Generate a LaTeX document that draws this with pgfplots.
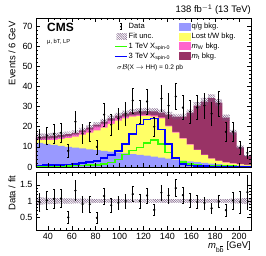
\documentclass[border=0pt]{standalone}
\usepackage{fontspec}
\setmainfont{Liberation Sans}
\usepackage{pgfplots}
\pgfplotsset{compat=1.18}
\usepackage{pgfplotstable}
\usetikzlibrary{patterns.meta}
\definecolor{qg}{RGB}{153,153,255}
\definecolor{tw}{RGB}{255,255,102}
\definecolor{mw}{RGB}{255,102,204}
\definecolor{mt}{RGB}{153,51,102}
\definecolor{sigA}{RGB}{51,255,0}
\definecolor{sigB}{RGB}{0,0,255}
\definecolor{unc}{RGB}{120,90,130}

\pgfplotstableread{
xl B Y P T r g b
30 12.0 13.4 14.2 15.0 0.11 0.5 0.8
36 11.5 13.3 14.2 15.2 0.10 0.5 0.9
42 11.0 13.4 14.4 15.5 0.09 0.5 1.0
48 10.5 13.8 14.8 15.8 0.085 0.6 1.1
54 10.0 14.4 15.4 16.3 0.08 0.6 1.3
60 9.6 15.1 16.2 17.0 0.075 0.7 1.5
66 9.2 16.1 17.4 18.2 0.07 0.8 1.9
72 8.8 17.1 18.7 19.5 0.065 0.9 2.4
78 8.4 18.2 20.2 21.0 0.06 1.0 3.1
84 8.0 19.6 21.6 22.5 0.06 1.5 4.4
90 7.6 21.4 23.1 24.2 0.055 2.2 6.0
96 7.2 23.0 24.3 25.5 0.055 3.8 8.0
102 6.8 24.2 25.1 26.5 0.055 6.3 11.5
108 6.4 25.0 25.7 27.2 0.055 8.3 16.5
114 6.0 25.3 26.0 27.6 0.055 9.8 21.0
120 5.6 25.4 26.0 27.8 0.055 12.0 23.5
126 5.2 25.0 25.6 27.6 0.055 13.5 24.0
132 4.7 24.1 24.6 27.0 0.055 11.5 18.5
138 4.2 20.2 20.6 26.0 0.055 7.2 11.5
144 3.7 17.1 17.4 25.0 0.055 4.2 4.5
150 3.2 14.1 14.3 25.0 0.055 2.6 1.5
156 2.8 11.1 11.3 27.0 0.055 1.6 0.8
162 2.4 8.4 8.6 30.5 0.055 1.1 0.5
168 2.0 5.9 6.1 32.5 0.055 0.8 0.4
174 1.7 4.1 4.3 34.2 0.055 0.6 0.3
180 1.4 3.0 3.2 32.0 0.055 0.5 0.3
186 1.1 2.2 2.4 24.5 0.06 0.4 0.2
192 0.9 1.7 1.9 17.2 0.07 0.4 0.2
198 0.7 1.3 1.4 9.8 0.08 0.3 0.2
204 0.5 1.0 1.1 5.5 0.09 0.3 0.2
210 0.5 1.0 1.1 5.5 0.09 0.3 0.2
}\stack

\pgfplotstableread{
xc N e T
33 14.5 4.2 15.0
39 15.5 4.3 15.2
45 16.5 4.5 15.5
51 17.0 4.5 15.8
57 8.0 3.1 16.3
63 22.5 5.2 17.0
69 16.5 4.5 18.2
75 17.5 4.6 19.5
81 10.0 3.5 21.0
87 26.0 5.6 22.5
93 21.0 5.0 24.2
99 24.0 5.4 25.5
105 26.5 5.7 26.5
111 33.0 6.3 27.2
117 27.5 5.8 27.6
123 32.5 6.3 27.8
129 20.0 4.9 27.6
135 34.0 6.4 27.0
141 30.5 6.1 26.0
147 35.0 6.5 25.0
153 29.5 6.0 25.0
159 27.5 5.8 27.0
165 29.5 6.0 30.5
171 30.5 6.1 32.5
177 26.5 5.7 34.2
183 31.5 6.2 32.0
189 17.5 4.6 24.5
195 17.5 4.6 17.2
201 9.5 3.4 9.8
207 7.0 2.9 5.5
}\data

\pgfplotsset{
  cmsaxis/.style={
    scale only axis, width=215bp, xmin=30, xmax=210,
    axis on top, tick align=inside,
    axis line style={line width=0.6pt},
    every tick/.style={black, line width=0.5pt},
    major tick length=4bp, minor tick length=2bp,
    xtick={40,60,...,200}, minor x tick num=3,
    /pgf/number format/assume math mode=true,
    ticklabel style={font=\fontsize{9}{10}\selectfont},
    label style={font=\fontsize{9.5}{11}\selectfont},
  },
  dataerr/.style={only marks, mark=*, mark size=0.9pt, black,
    error bars/.cd, y dir=both, y explicit,
    error bar style={line width=0.6pt, black},
    error mark options={rotate=90, mark size=0.9pt, line width=0.5pt}},
  hatchband/.style={pattern={Lines[angle=-45,distance=1.6pt,line width=0.5pt]}, pattern color=unc, draw=none},
}

\begin{document}
\begin{tikzpicture}
\useasboundingbox (0,0) rectangle (266bp,256bp);
% upper panel
\begin{axis}[cmsaxis, at={(36bp,89bp)}, anchor=south west, height=149bp,
  ymin=0, ymax=74, ytick={0,10,...,70}, minor y tick num=4,
  xticklabels={},
  ylabel={Events / 6 GeV},
  ylabel style={at={(axis description cs:-0.112,1)}, anchor=east},
  legend columns=2,
  legend cell align=left,
  legend style={draw=none, fill=none, at={(axis description cs:0.363,0.975)}, anchor=north west,
    font=\fontsize{7.6}{9}\selectfont, inner sep=0pt,
    nodes={inner sep=1bp, text height=5.8bp, text depth=1.6bp},
    row sep=0.5bp,
    /tikz/every even column/.append style={column sep=7.4bp}},
]
\addlegendimage{legend image code/.code={\draw[draw=black,line width=0.6pt] (6bp,-3bp) -- (6bp,3bp); \draw[draw=black,line width=0.5pt] (5bp,3bp) -- (7bp,3bp) (5bp,-3bp) -- (7bp,-3bp); \fill[fill=black,draw=none] (6bp,0) circle (0.9bp); \path[draw=none,fill=none] (0,-4bp) rectangle (12bp,4bp);}}
\addlegendentry{Data}
\addlegendimage{legend image code/.code={\fill[fill=qg,draw=none] (0,-4bp) rectangle (12bp,4bp);}}
\addlegendentry{q/g bkg.}
\addlegendimage{legend image code/.code={\path[draw=none, pattern={Lines[angle=-45,distance=1.6pt,line width=0.5pt]}, pattern color=unc] (1.5bp,-3bp) rectangle (12bp,3bp); \path[draw=none,fill=none] (0,-4bp) rectangle (12bp,4bp);}}
\addlegendentry{Fit unc.}
\addlegendimage{legend image code/.code={\fill[fill=tw,draw=none] (0,-4bp) rectangle (12bp,4bp);}}
\addlegendentry{Lost t/W bkg.}
\addlegendimage{legend image code/.code={\draw[draw=sigA,line width=1.5pt] (0,0) -- (12bp,0); \path[draw=none,fill=none] (0,-4bp) rectangle (12bp,4bp);}}
\addlegendentry{1 TeV X\textsubscript{spin-0}}
\addlegendimage{legend image code/.code={\fill[fill=mw,draw=none] (0,-4bp) rectangle (12bp,4bp);}}
\addlegendentry{\textit{m}\textsubscript{W} bkg.}
\addlegendimage{legend image code/.code={\draw[draw=sigB,line width=1.5pt] (0,0) -- (12bp,0); \path[draw=none,fill=none] (0,-4bp) rectangle (12bp,4bp);}}
\addlegendentry{3 TeV X\textsubscript{spin-0}}
\addlegendimage{legend image code/.code={\fill[fill=mt,draw=none] (0,-4bp) rectangle (12bp,4bp);}}
\addlegendentry{\textit{m}\textsubscript{t} bkg.}

\addplot[const plot mark left, fill=mt, draw=none, forget plot] table[x=xl, y=T] {\stack} \closedcycle;
\addplot[const plot mark left, fill=mw, draw=none, forget plot] table[x=xl, y=P] {\stack} \closedcycle;
\addplot[const plot mark left, fill=tw, draw=none, forget plot] table[x=xl, y=Y] {\stack} \closedcycle;
\addplot[const plot mark left, fill=qg, draw=none, forget plot] table[x=xl, y=B] {\stack} \closedcycle;
\addplot[const plot mark left, draw=none, stack plots=y, forget plot] table[x=xl, y expr=\thisrow{T}*(1-\thisrow{r})] {\stack};
\addplot[const plot mark left, hatchband, stack plots=y, forget plot] table[x=xl, y expr=2*\thisrow{T}*\thisrow{r}] {\stack} \closedcycle;
\addplot[const plot mark left, sigA, line width=1.5pt, forget plot] table[x=xl, y=g] {\stack};
\addplot[const plot mark left, sigB, line width=1.5pt, forget plot] table[x=xl, y=b] {\stack};
\addplot[forget plot, dataerr] table[x=xc, y=N, y error=e] {\data};
\end{axis}

% lower panel
\begin{axis}[cmsaxis, at={(36bp,26bp)}, anchor=south west, height=58bp,
  ymin=0.1, ymax=1.9, ytick={0.5,1,1.5}, minor y tick num=4,
  xlabel={\textit{m}\textsubscript{b$\overline{\mbox{b}}$} [GeV]},
  xlabel style={at={(axis description cs:1,-0.2)}, anchor=north east, inner sep=0pt},
  ylabel={Data / fit},
  ylabel style={at={(axis description cs:-0.112,1)}, anchor=east},
]
\addplot[const plot mark left, draw=none, stack plots=y] table[x=xl, y expr=1-\thisrow{r}] {\stack};
\addplot[const plot mark left, hatchband, stack plots=y] table[x=xl, y expr=2*\thisrow{r}] {\stack} \closedcycle;
\addplot[dataerr] table[x=xc, y expr=\thisrow{N}/\thisrow{T}, y error expr=\thisrow{e}/\thisrow{T}] {\data};
\end{axis}

\node[anchor=north west, inner sep=0pt, font=\fontsize{12}{13}\bfseries\selectfont] at (47bp,233bp) {CMS};
\node[anchor=west, inner sep=0pt, font=\fontsize{5.8}{7}\selectfont] at (47bp,214bp) {μ, bT, LP};
\node[anchor=west, inner sep=0pt, font=\fontsize{6.6}{8}\selectfont] at (117bp,187.7bp) {$\sigma\mathcal{B}$(X $\rightarrow$ HH) = 0.2 pb};
\node[anchor=base east, inner sep=0pt, font=\fontsize{9.5}{11}\selectfont] at (251bp,243bp) {138 fb\textsuperscript{$-$1} (13 TeV)};
\end{tikzpicture}
\end{document}
